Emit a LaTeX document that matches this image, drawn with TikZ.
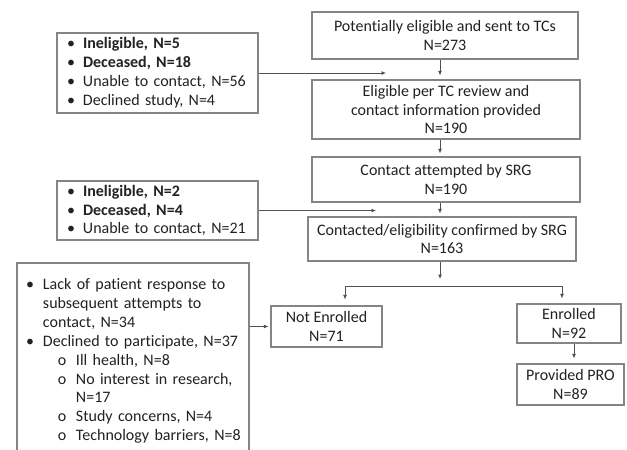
\documentclass[tikz,border=0pt]{standalone}
\usepackage{fontspec}
\setmainfont{Carlito}[Ligatures={NoCommon}]
\usetikzlibrary{arrows.meta}
\definecolor{boxgray}{HTML}{858585}
\definecolor{linegray}{HTML}{505050}
\definecolor{txt}{HTML}{222222}
\newcommand{\mybul}[1][16pt]{\makebox[#1][l]{•}}
\newcommand{\subbul}{\makebox[18pt][l]{o}}
\newcommand{\fsz}{\fontsize{16}{18.9}\selectfont}
\begin{document}
\begin{tikzpicture}[x=1pt,y=-1pt,
  box/.style={draw=boxgray, line width=1.1pt, text=txt, inner sep=0pt, align=center, font=\fsz},
  lbox/.style={box, align=left},
  arr/.style={draw=linegray, line width=0.8pt, -{Latex[length=4.5pt,width=4pt]}},
  ln/.style={draw=linegray, line width=0.8pt}]
\useasboundingbox[fill=white] (0,0) rectangle (627,450);

\node[box, minimum width=266pt, minimum height=47pt] (A) at (445,35.5) {Potentially eligible and sent to TCs\\N=273};
\node[box, minimum width=268pt, minimum height=59pt] (B) at (446,109.5) {Eligible per TC review and\\contact information provided\\N=190};
\node[box, minimum width=268pt, minimum height=45pt] (C) at (446,179.5) {Contact attempted by SRG\\N=190};
\node[box, minimum width=268pt, minimum height=44pt] (D) at (442,239) {Contacted/eligibility confirmed by SRG\\N=163};
\node[box, minimum width=111pt, minimum height=41pt] (NE) at (326.5,326.5) {Not Enrolled\\N=71};
\node[box, minimum width=104pt, minimum height=39pt] (E) at (569,323.5) {Enrolled\\N=92};
\node[box, minimum width=107pt, minimum height=41pt] (P) at (570.5,384.5) {Provided PRO\\N=89};

\node[lbox, text width=181pt, inner xsep=10pt, minimum width=201pt, minimum height=80pt] (L1) at (157.5,73)
  {\mybul\textbf{Ineligible, N=5}\\
   \mybul\textbf{Deceased, N=18}\\
   \mybul Unable to contact, N=56\\
   \mybul Declined study, N=4};
\node[lbox, text width=181pt, inner xsep=10pt, minimum width=201pt, minimum height=59pt] (L2) at (157.5,210.5)
  {\mybul\textbf{Ineligible, N=2}\\
   \mybul\textbf{Deceased, N=4}\\
   \mybul Unable to contact, N=21};
\node[lbox, text width=214pt, inner xsep=9pt, minimum width=232pt, minimum height=196pt] (L3) at (133,361)
  {\mbox{\mybul[17pt]Lack of patient response to}\\
   \mbox{\hspace*{17pt}subsequent attempts to}\\
   \mbox{\hspace*{17pt}contact, N=34}\\
   \mbox{\mybul[17pt]Declined to participate, N=37}\\
   \mbox{\hspace*{32pt}\subbul Ill health, N=8}\\
   \mbox{\hspace*{32pt}\subbul No interest in research,}\\
   \mbox{\hspace*{50pt}N=17}\\
   \mbox{\hspace*{32pt}\subbul Study concerns, N=4}\\
   \mbox{\hspace*{32pt}\subbul Technology barriers, N=8}};

\coordinate (X) at (440,0);
\coordinate (X2) at (574,0);
\coordinate (T1) at (386,73);
\coordinate (T2) at (376,210.5);
\coordinate (DT) at (440,279);
\coordinate (BL) at (345,286);
\coordinate (BR) at (562,286);

\draw[arr] (L1.east) -- (T1);
\draw[arr] (L2.east) -- (T2);
\draw[arr, shorten >=4pt] (A.south -| X) -- (B.north -| X);
\draw[arr, shorten >=3pt] (B.south -| X) -- (C.north -| X);
\draw[arr, shorten >=3pt] (C.south -| X) -- (D.north -| X);
\draw[arr] (D.south -| X) -- (DT);
\draw[ln] (BL) -- (BR);
\draw[arr, shorten >=6pt] (BL) -- (BL |- NE.north);
\draw[arr, shorten >=5pt] (BR) -- (BR |- E.north);
\draw[arr, shorten >=5pt] (E.south -| X2) -- (P.north -| X2);
\draw[arr, shorten >=2pt] (L3.east |- NE.west) -- (NE.west);
\end{tikzpicture}
\end{document}
